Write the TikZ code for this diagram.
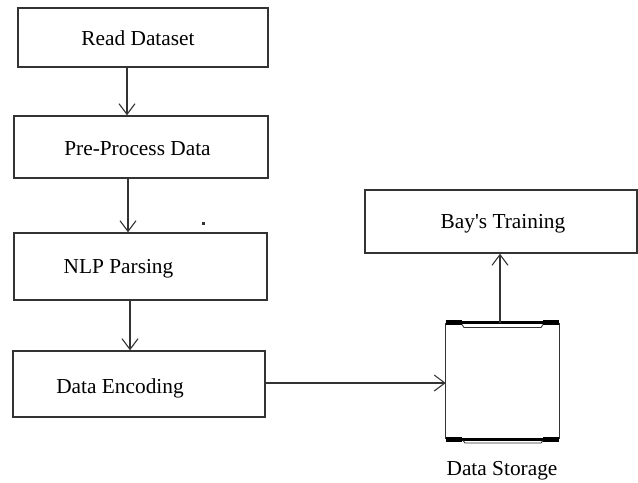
\documentclass[tikz,border=0pt]{standalone}
\usepackage{fontspec}
\setmainfont{Liberation Serif}
\usetikzlibrary{arrows.meta}
\definecolor{ink}{HTML}{333333}
\begin{document}
\begin{tikzpicture}[x=0.75pt,y=-0.75pt,
  stepbox/.style={draw=ink, line width=1.1pt, rectangle, inner sep=0pt},
  lbl/.style={anchor=base, inner sep=0pt, font=\fontsize{16}{19}\selectfont},
  flow/.style={draw=ink, line width=1pt, -{Straight Barb[length=8pt,width=12pt,line width=0.8pt]}},
  rim/.style={draw=black, line width=2.4pt},
  lug/.style={draw=black, line width=3.4pt},
  lip/.style={draw=ink, line width=0.7pt},
]
\useasboundingbox (0,0) rectangle (638,482);

% process boxes
\node[stepbox, minimum width=187.5pt, minimum height=44.25pt] (read) at (143,37.5) {};
\node[stepbox, minimum width=190.5pt, minimum height=46.5pt] (prep) at (141,147) {};
\node[stepbox, minimum width=189.75pt, minimum height=50.25pt] (nlp) at (140.5,266.5) {};
\node[stepbox, minimum width=189pt, minimum height=49.5pt] (enc) at (139,384) {};
\node[stepbox, minimum width=204pt, minimum height=47.25pt] (bay) at (501,221.5) {};

% storage drum
\node[inner sep=0pt, minimum width=84.75pt, minimum height=87pt] (store) at (502.5,381) {};
\draw[ink, line width=1pt] (store.north west) -- (store.south west);
\draw[ink, line width=1pt] (store.north east) -- (store.south east);
\draw[rim] (store.north west) -- (store.north east);
\draw[rim] (store.south west) -- (store.south east);
\draw[lug] (store.north west) -- ++(16,0);
\draw[lug] (store.north east) -- ++(-16,0);
\draw[lug] (store.south west) -- ++(16,0);
\draw[lug] (store.south east) -- ++(-16,0);
\draw[lip] (462,324.5) -- (464,327.5) -- (541,327.5) -- (543,324.5);
\draw[lip] (463,440.5) -- (465,443) -- (541,443) -- (543,440.5);

% labels
\node[lbl] (t1) at (138,45) {Read Dataset};
\node[lbl] (t2) at (137.5,155) {Pre-Process Data};
\node[lbl] (t3) at (118.5,273) {NLP Parsing};
\node[lbl] (t4) at (120,393) {Data Encoding};
\node[lbl] (t5) at (503,228) {Bay\textquotesingle s Training};
\node[lbl] (t6) at (502,475) {Data Storage};

% stray speck
\fill[ink] (202,222) rectangle (204.5,224.5);

% connectors
\draw[flow] (read.south -| 127,0) -- (prep.north -| 127,0);
\draw[flow] (prep.south -| 128,0) -- (nlp.north -| 128,0);
\draw[flow] (nlp.south -| 130,0) -- (enc.north -| 130,0);
\draw[flow] (enc.east |- 0,383) -- (store.west |- 0,383);
\draw[flow] (store.north -| 500,0) -- (bay.south -| 500,0);
\end{tikzpicture}
\end{document}
